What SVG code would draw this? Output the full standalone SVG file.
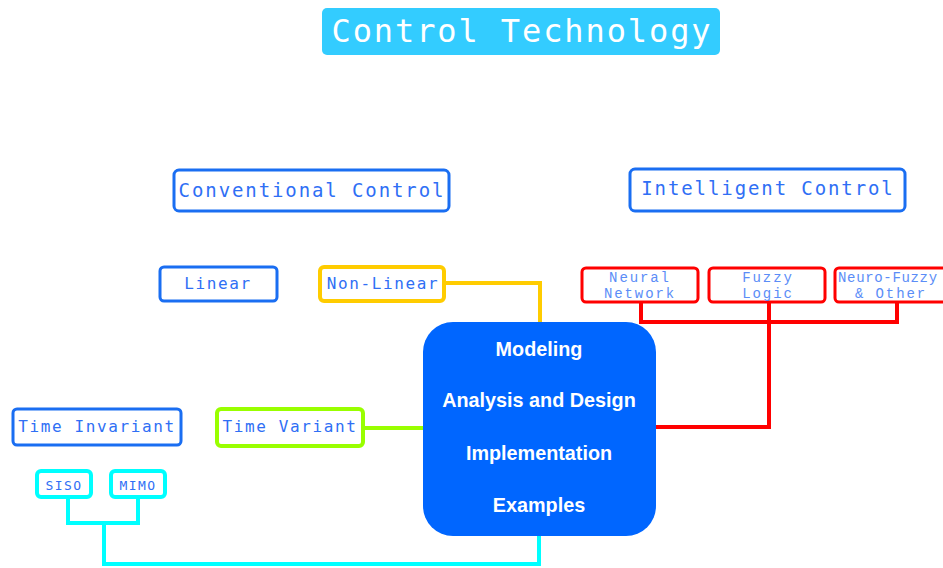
<svg xmlns="http://www.w3.org/2000/svg" width="943" height="568" viewBox="0 0 943 568">
  <style>
    .mono { font-family: "DejaVu Sans Mono", "Liberation Mono", monospace; fill: #2f6ff5; }
    .lbl-lg { font-size: 19px; letter-spacing: 1.9px; }
    .lbl-md { font-size: 16px; letter-spacing: 1.6px; }
    .lbl-sm { font-size: 13px; letter-spacing: 1.4px; }
    .courier { font-family: "Liberation Mono", "Courier New", monospace; font-size: 14px; letter-spacing: 1.9px; fill: #5b8df7; }
    .box-blue { fill: #ffffff; stroke: #1a6ef2; stroke-width: 3; }
    .box-yellow { fill: #ffffff; stroke: #ffcc00; stroke-width: 4; }
    .box-green { fill: #ffffff; stroke: #99ff00; stroke-width: 4; }
    .box-red { fill: #ffffff; stroke: #ff0000; stroke-width: 3; }
    .box-cyan { fill: #ffffff; stroke: #00ffff; stroke-width: 4; }
    .core-text { font-family: "Liberation Sans", Arial, sans-serif; font-weight: bold; font-size: 19.8px; fill: #ffffff; text-anchor: middle; }
    .wire { fill: none; stroke-linejoin: miter; stroke-linecap: square; }
  </style>

  <!-- connectors -->
  <g id="connectors">
    <polyline class="wire" points="445,283 540,283 540,322" stroke="#ffcc00" stroke-width="4"/>
    <polyline class="wire" points="364,428 423,428" stroke="#99ff00" stroke-width="4"/>
    <polyline class="wire" points="641,302 641,322 897,322 897,302" stroke="#ff0000" stroke-width="4"/>
    <polyline class="wire" points="769,302 769,427 657,427" stroke="#ff0000" stroke-width="4"/>
    <polyline class="wire" points="68,498 68,523 138,523 138,498" stroke="#00ffff" stroke-width="4"/>
    <polyline class="wire" points="104,523 104,564 539,564 539,537" stroke="#00ffff" stroke-width="4"/>
  </g>

  <!-- title -->
  <g id="control-technology">
    <rect x="322" y="8" width="398" height="47" rx="5" fill="#33ccff"/>
    <text x="522" y="42" class="mono" font-size="32" letter-spacing="1.9" style="fill:#ffffff" text-anchor="middle">Control Technology</text>
  </g>

  <g id="conventional-control">
    <rect x="174" y="170" width="275" height="41" rx="5" class="box-blue"/>
    <text x="312" y="197" class="mono lbl-lg" text-anchor="middle">Conventional Control</text>
  </g>

  <g id="intelligent-control">
    <rect x="630" y="169" width="275" height="42" rx="5" class="box-blue"/>
    <text x="768" y="195" class="mono lbl-lg" text-anchor="middle">Intelligent Control</text>
  </g>

  <g id="linear">
    <rect x="160" y="267" width="117" height="34" rx="4" class="box-blue"/>
    <text x="218" y="289" class="mono lbl-md" text-anchor="middle">Linear</text>
  </g>

  <g id="non-linear">
    <rect x="320" y="267" width="124" height="34" rx="4" class="box-yellow"/>
    <text x="383" y="289" class="mono lbl-md" text-anchor="middle">Non-Linear</text>
  </g>

  <g id="neural-network">
    <rect x="582" y="268" width="116" height="34" rx="4" class="box-red"/>
    <text x="640" y="282" class="courier" text-anchor="middle">Neural</text>
    <text x="640" y="298" class="courier" text-anchor="middle">Network</text>
  </g>

  <g id="fuzzy-logic">
    <rect x="709" y="268" width="116" height="34" rx="4" class="box-red"/>
    <text x="768" y="282" class="courier" text-anchor="middle">Fuzzy</text>
    <text x="768" y="298" class="courier" text-anchor="middle">Logic</text>
  </g>

  <g id="neuro-fuzzy">
    <rect x="835" y="268" width="116" height="34" rx="4" class="box-red"/>
    <text x="838" y="282" class="courier" letter-spacing="0" textLength="101" lengthAdjust="spacing">Neuro-Fuzzy</text>
    <text x="891" y="298" class="courier" text-anchor="middle">&amp; Other</text>
  </g>

  <g id="core">
    <rect x="423" y="322" width="233" height="214" rx="30" fill="#0066ff"/>
    <text x="539" y="356" class="core-text">Modeling</text>
    <text x="539" y="407" class="core-text">Analysis and Design</text>
    <text x="539" y="460" class="core-text">Implementation</text>
    <text x="539" y="512" class="core-text">Examples</text>
  </g>

  <g id="time-invariant">
    <rect x="13" y="409" width="168" height="36" rx="4" class="box-blue"/>
    <text x="97" y="432" class="mono lbl-md" text-anchor="middle">Time Invariant</text>
  </g>

  <g id="time-variant">
    <rect x="217" y="409" width="146" height="37" rx="4" class="box-green"/>
    <text x="290" y="432" class="mono lbl-md" text-anchor="middle">Time Variant</text>
  </g>

  <g id="siso">
    <rect x="37" y="471" width="54" height="26" rx="4" class="box-cyan"/>
    <text x="64" y="490" class="mono lbl-sm" text-anchor="middle">SISO</text>
  </g>

  <g id="mimo">
    <rect x="111" y="471" width="54" height="26" rx="4" class="box-cyan"/>
    <text x="138" y="490" class="mono lbl-sm" text-anchor="middle">MIMO</text>
  </g>
</svg>
